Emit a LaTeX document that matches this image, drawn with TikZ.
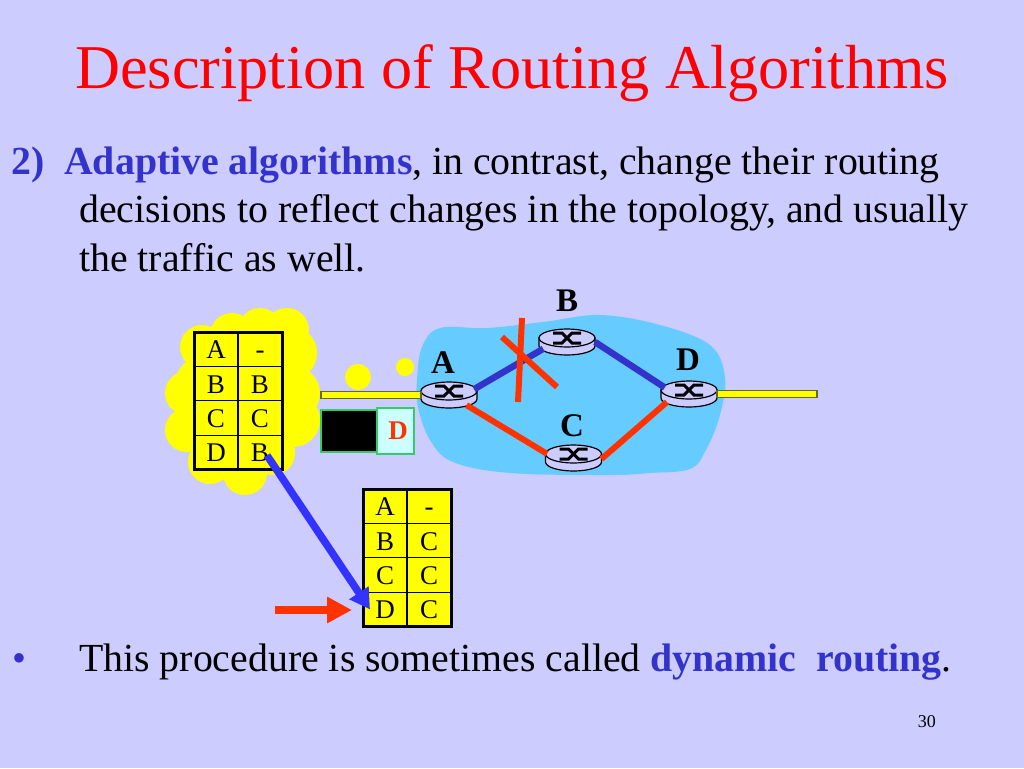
\documentclass[tikz,border=0pt]{standalone}
\usepackage{xcolor}
\usepackage{fontspec}
\setmainfont{Liberation Serif}
\usetikzlibrary{shapes.geometric,arrows.meta,positioning,fit}
\definecolor{SlideBg}{HTML}{CCCCFF}
\definecolor{TitleRed}{HTML}{FF0000}
\definecolor{KeyBlue}{HTML}{3333CC}
\definecolor{ArrowBlue}{HTML}{3333FF}
\definecolor{LinkRed}{HTML}{FF3300}
\definecolor{NetBlue}{HTML}{66CCFF}
\definecolor{CloudYellow}{HTML}{FFFF00}
\definecolor{BarEdge}{HTML}{666633}
\definecolor{PktGreen}{HTML}{33CC66}
\definecolor{PktCyan}{HTML}{CCFFFF}
\tikzset{
  TXT/.style={anchor=base west,inner sep=0pt,font=\fontsize{39.8}{40}\selectfont},
  cell/.style={rectangle,draw=black,line width=1.2pt,fill=CloudYellow,inner sep=0pt,outer sep=0pt,
               minimum width=44pt,minimum height=34.4pt,text height=19pt,text depth=0pt,
               font=\fontsize{27}{27}\selectfont},
  frameT/.style={draw=black,line width=3pt,inner sep=0pt,outer sep=0pt},
  rbase/.style={ellipse,minimum width=56pt,minimum height=26pt,inner sep=0pt,outer sep=0pt},
  rtop/.style={fill=SlideBg,draw=black,line width=1.2pt},
  rmark/.style={draw=black,line width=3pt},
  LB/.style={font=\fontsize{33}{33}\selectfont\bfseries,inner sep=0pt},
  bar/.style={rectangle,fill=CloudYellow,draw=BarEdge,line width=1.4pt,inner sep=0pt,outer sep=0pt,
              minimum width=100pt,minimum height=7pt},
  lkB/.style={draw=KeyBlue,line width=6.5pt},
  lkR/.style={draw=LinkRed,line width=6pt},
  arrB/.style={-{Triangle[length=20pt,width=22pt]},draw=ArrowBlue,fill=ArrowBlue,line width=7.5pt},
  arrR/.style={-{Triangle[length=25pt,width=25pt]},draw=LinkRed,fill=LinkRed,line width=7.5pt}
}
\newcommand{\router}[3]{
  \node[rbase] (#1) at (#2,#3+4) {};
  \filldraw[rtop] (#2-28,#3) -- (#2-28,#3+8) arc[start angle=180,end angle=360,x radius=28pt,y radius=9pt]
    -- (#2+28,#3) -- cycle;
  \filldraw[rtop] (#2,#3) ellipse[x radius=28pt,y radius=9pt];
  \draw[rmark] (#2-14,#3-5) -- (#2-5,#3-5) -- (#2+5,#3+5) -- (#2+14,#3+5);
  \draw[rmark] (#2-14,#3+5) -- (#2-5,#3+5) -- (#2+5,#3-5) -- (#2+14,#3-5);
}
\newcommand{\rtable}[4]{
  \foreach \lft/\rgt [count=\i from 0] in {#4}{
    \node[cell,anchor=north west] (#1\i l) at (#2,#3+\i*34.4) {\lft};
    \node[cell,right=0pt of #1\i l] (#1\i r) {\rgt};
  }
  \node[frameT,fit=(#10l)(#13r)] (#1frame) {};
}

\begin{document}
\begin{tikzpicture}[x=1pt,y=-1pt]
  \useasboundingbox[fill=SlideBg] (0,0) rectangle (1024,768);

  \node[anchor=base west,inner sep=0pt,text=TitleRed,font=\fontsize{62.3}{62}\selectfont] (title) at (75,88) {Description of Routing Algorithms};
  \node[TXT] (line1) at (11,174) {\textcolor{KeyBlue}{\textbf{2)\ \ Adaptive algorithms}}, in contrast, change their routing};
  \node[TXT] (line2) at (79,222) {decisions to reflect changes in the topology, and usually};
  \node[TXT] (line3) at (79,271) {the traffic as well.};
  \node[TXT,text=KeyBlue] (bullet) at (12,671) {•};
  \node[TXT] (line4) at (79,671) {This procedure is sometimes called \textcolor{KeyBlue}{\textbf{dynamic\ \ routing}}.};
  \node[anchor=base east,inner sep=0pt,font=\fontsize{18}{18}\selectfont] (pageno) at (936,727) {30};

  \fill[CloudYellow] (200,345) rectangle (290,465);
  \foreach \cx/\cy/\cr in {287/330/22,260/330/22,232/335/22,202/347/22,187/393/22,187/430/22,
                           210/462/22,245/473/22,273/453/22,293/420/27,293/393/27,290/353/27,205/385/30}
    \fill[CloudYellow] (\cx,\cy) circle[radius=\cr pt];
  \fill[CloudYellow] (358,377) circle[radius=13pt];
  \fill[CloudYellow] (405,367) circle[radius=9pt];

  \fill[NetBlue] plot[smooth cycle,tension=0.6] coordinates {
    (417,380) (422,347) (440,328) (487,328) (543,322) (600,315) (660,325) (710,345)
    (725,377) (720,415) (706,450) (690,469) (650,473) (610,475) (510,473) (453,462) (430,440) (418,407)};

  \rtable{old}{194}{332}{A/-,B/B,C/C,D/B}
  \rtable{new}{363}{489}{A/-,B/C,C/C,D/C}

  \router{rA}{449}{391}
  \router{rB}{567}{338}
  \router{rC}{573.5}{454}
  \router{rD}{689}{390}

  \node[bar,left=0pt of rA] (barL) {};
  \node[bar,right=0pt of rD] (barR) {};

  \node[rectangle,fill=black,draw=PktGreen,line width=1.2pt,minimum width=56pt,minimum height=42pt,inner sep=0pt,outer sep=0pt] (pkt) at (349,431) {};
  \node[rectangle,fill=PktCyan,draw=PktGreen,line width=1.2pt,minimum width=37pt,minimum height=46pt,inner sep=0pt,outer sep=0pt,
        text=LinkRed,font=\fontsize{27}{27}\selectfont\bfseries,right=0pt of pkt] (hdr) {\hspace*{5pt}D};

  \node[LB] (lA) at (443,363) {A};
  \node[LB] (lB) at (567,301) {B};
  \node[LB] (lC) at (572,426) {C};
  \node[LB] (lD) at (688,360) {D};

  \draw[lkB] (rA.13) -- (rB.196);
  \draw[lkB] (rB.east) -- (rD.165);
  \draw[lkR] (rA.-30) -- (rC.171);
  \draw[lkR] (rC.-2) -- (rD.200);

  \coordinate (xa) at (522,318);
  \coordinate (xb) at (518,402);
  \coordinate (xc) at (502,337);
  \coordinate (xd) at (557,387);
  \draw[lkR] (xa) -- (xb);
  \draw[lkR] (xc) -- (xd);

  \draw[arrB] ([shift={(7,3)}]old3r.center) -- ([xshift=7pt]new3l.west);
  \coordinate (tail) at (275,610);
  \coordinate (tip) at (352,610);
  \draw[arrR] (tail) -- (tip);
\end{tikzpicture}
\end{document}
